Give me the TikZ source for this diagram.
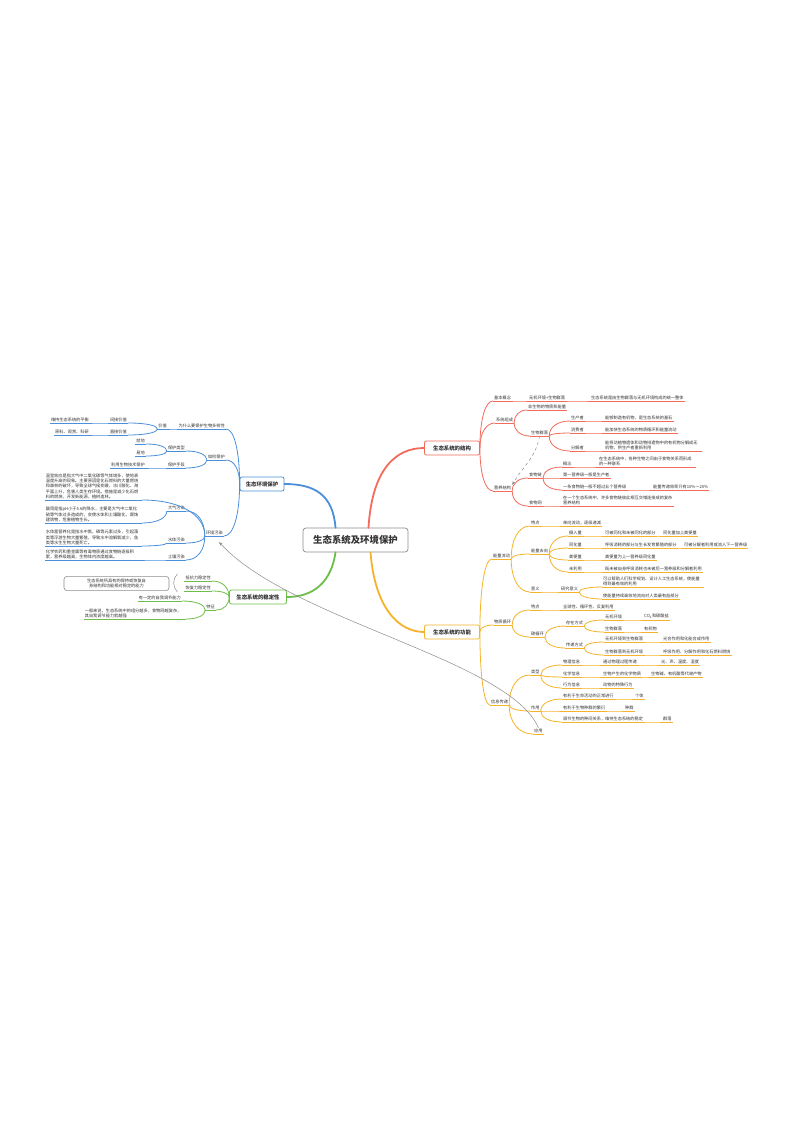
\documentclass[tikz,border=0pt]{standalone}
\usepackage{fontspec}
\newfontfamily\cjk{Noto Sans CJK SC}
\XeTeXlinebreaklocale "zh"
\XeTeXlinebreakskip=0pt
\usetikzlibrary{calc, arrows.meta}
\definecolor{rosso}{HTML}{F26B5B}
\definecolor{arancio}{HTML}{F5B32B}
\definecolor{blu}{HTML}{4A8FDA}
\definecolor{verde}{HTML}{6DBE4B}
\definecolor{testo}{HTML}{333333}
\definecolor{grigio}{HTML}{8C8C8C}

\tikzset{
  voce/.style={font=\cjk\fontsize{4.2}{5.3}\selectfont, text=testo, inner xsep=1pt, inner ysep=0.9pt},
  vd/.style={voce, anchor=south west},
  vs/.style={voce, anchor=south east},
  blocco/.style={text width=#1, align=left},
  scatola/.style={draw=#1, fill=white, rounded corners=2pt, line width=0.8pt, minimum height=14pt,
    font=\cjk\fontsize{5.4}{6}\selectfont\bfseries, text=testo, inner sep=1pt},
  lr/.style={draw=rosso, line width=0.8pt},
  la/.style={draw=arancio, line width=0.8pt},
  lb/.style={draw=blu, line width=0.8pt},
  lv/.style={draw=verde, line width=0.8pt},
  tronco/.style={line width=1.8pt, line cap=round},
  freccia/.style={draw=grigio, line width=0.5pt, -{Stealth[length=4pt, width=3pt]}}
}

% ramo curvo tra due punti
\newcommand\ramo[3]{\draw[#1] (#2) .. controls ($(#2)!0.6!(#2 |- #3)$) and ($(#3)!0.6!(#2 |- #3)$) .. (#3);}

\begin{document}
\begin{tikzpicture}[x=1pt, y=-1pt]

    \fill[white] (0,0) rectangle (800,1131);
    \useasboundingbox (0,0) rectangle (800,1131);

    % Centro
    \node[draw=grigio, fill=white, rounded corners=3pt, line width=0.7pt, minimum width=105pt, minimum height=24pt,
      font=\cjk\fontsize{9.4}{10}\selectfont\bfseries, text=testo] (c) at (355.5,540) {生态系统及环境保护};

    % Rami principali
    \node[scatola=rosso, minimum width=55pt] (r0) at (452,448) {生态系统的结构};
    \node[scatola=arancio, minimum width=55pt] (o0) at (452,632) {生态系统的功能};
    \node[scatola=blu, minimum width=44pt] (b0) at (262,484) {生态环境保护};
    \node[scatola=verde, minimum width=57pt] (g0) at (258,597) {生态系统的稳定性};

    \draw[tronco, blu] ($(c.north)+(-20,0)$) .. controls (333,495) and (315,484) .. (b0.east);
    \draw[tronco, rosso] ($(c.north)+(13,0)$) .. controls (372,470) and (395,448) .. (r0.west);
    \draw[tronco, arancio] ($(c.south)+(15,0)$) .. controls (375,610) and (400,632) .. (o0.west);
    \draw[tronco, verde] ($(c.south)+(-20,0)$) .. controls (330,590) and (305,597) .. (g0.east);

    % Struttura
    \node[vd] (r1) at (493,401) {基本概念};
    \node[vd] (r11) at (528,401) {无机环境+生物群落};
    \node[vd] (r111) at (590,401) {生态系统是由生物群落与无机环境构成的统一整体};
    \node[vd] (r2) at (495,423) {系统组成};
    \node[vd] (r21) at (527,410) {非生物的物质和能量};
    \node[vd] (r22) at (530,436) {生物群落};
    \node[vd] (r221) at (570,421) {生产者};
    \node[vd] (r2211) at (604,421) {能够制造有机物，是生态系统的基石};
    \node[vd] (r222) at (570,433) {消费者};
    \node[vd] (r2221) at (604,433) {能加快生态系统的物质循环和能量流动};
    \node[vd] (r223) at (570,451) {分解者};
    \node[vd, blocco=96pt] (r2231) at (604,451) {能将动植物遗体和动物排遗物中的有机物分解成无机物，供生产者重新利用};
    \node[vd] (r3) at (493,491) {营养结构};
    \node[vd] (r31) at (528,478) {食物链};
    \node[vd] (r311) at (562,467) {概念};
    \node[vd, blocco=96pt] (r3111) at (598,467) {在生态系统中，各种生物之间由于食物关系而形成的一种联系};
    \node[vd] (r312) at (562,478) {第一营养级一般是生产者};
    \node[vd] (r313) at (562,490) {一条食物链一般不超过五个营养级};
    \node[vd] (r3131) at (652,490) {能量传递效率只有10\%～20\%};
    \node[vd] (r32) at (528,506) {食物网};
    \node[vd, blocco=110pt] (r321) at (562,506) {在一个生态系统中，许多食物链彼此相互交错连接成的复杂营养结构};

    \foreach \n in {r1,r11,r111,r2,r21,r22,r221,r2211,r222,r2221,r223,r2231,r3,r31,r311,r3111,r312,r313,r3131,r32,r321}
      {\draw[lr] (\n.south west) -- (\n.south east);}
    \foreach \n in {r1,r2,r3}{\ramo{lr}{r0.east}{\n.south west}}
    \foreach \p/\n in {r1/r11,r11/r111,r2/r21,r2/r22,r22/r221,r22/r222,r22/r223,r221/r2211,r222/r2221,r223/r2231,
      r3/r31,r3/r32,r31/r311,r31/r312,r31/r313,r311/r3111,r313/r3131,r32/r321}
      {\ramo{lr}{\p.south east}{\n.south west}}
    \draw[freccia, dashed] (r22.south) to[out=-100, in=60] (r3.north east);

    % Funzione
    \node[vd] (o1) at (492,559) {能量流动};
    \node[vd] (o11) at (530,526) {特点};
    \node[vd] (o111) at (562,526) {单向流动，逐级递减};
    \node[vd] (o12) at (530,554) {能量去向};
    \node[vd] (o121) at (568,536) {摄入量};
    \node[vd] (o1211) at (604,536) {可被同化和未被同化的部分};
    \node[vd] (o12111) at (662,536) {同化量加上粪便量};
    \node[vd] (o122) at (568,548) {同化量};
    \node[vd] (o1221) at (604,548) {呼吸消耗的部分与生长发育繁殖的部分};
    \node[vd] (o12211) at (683,548) {可被分解者利用或流入下一营养级};
    \node[vd] (o123) at (568,560) {粪便量};
    \node[vd] (o1231) at (604,560) {粪便量为上一营养级同化量};
    \node[vd] (o124) at (568,572) {未利用};
    \node[vd] (o1241) at (604,572) {既未被自身呼吸消耗也未被后一营养级和分解者利用};
    \node[vd] (o13) at (530,592) {意义};
    \node[vd] (o131) at (560,592) {研究意义};
    \node[vd, blocco=100pt] (o1311) at (602,587) {可以帮助人们科学规划、设计人工生态系统，使能量得到最有效的利用};
    \node[vd] (o1312) at (602,599) {使能量持续高效地流向对人类最有益部分};
    \node[vd] (o2) at (493,625) {物质循环};
    \node[vd] (o21) at (530,610) {特点};
    \node[vd] (o211) at (562,610) {全球性、循环性、反复利用};
    \node[vd] (o22) at (530,637) {碳循环};
    \node[vd] (o221) at (565,626) {存在方式};
    \node[vd] (o2211) at (604,620) {无机环境};
    \node[vd] (o22111) at (643,620) {CO\textsubscript{2}和碳酸盐};
    \node[vd] (o2212) at (604,632) {生物群落};
    \node[vd] (o22121) at (643,632) {有机物};
    \node[vd] (o222) at (565,648) {传递方式};
    \node[vd] (o2221) at (604,642) {无机环境到生物群落};
    \node[vd] (o22211) at (662,642) {光合作用和化能合成作用};
    \node[vd] (o2222) at (604,655) {生物群落到无机环境};
    \node[vd] (o22221) at (662,655) {呼吸作用、分解作用和化石燃料燃烧};
    \node[vd] (o3) at (490,705) {信息传递};
    \node[vd] (o31) at (530,675) {类型};
    \node[vd] (o311) at (562,665) {物理信息};
    \node[vd] (o3111) at (602,665) {通过物理过程传递};
    \node[vd] (o31111) at (660,665) {光、声、温度、湿度};
    \node[vd] (o312) at (562,677) {化学信息};
    \node[vd] (o3121) at (602,677) {生物产生的化学物质};
    \node[vd] (o31211) at (650,677) {生物碱、有机酸等代谢产物};
    \node[vd] (o313) at (562,688) {行为信息};
    \node[vd] (o3131) at (602,688) {动物的特殊行为};
    \node[vd] (o32) at (530,711) {作用};
    \node[vd] (o321) at (562,699) {有利于生命活动的正常进行};
    \node[vd] (o3211) at (634,699) {个体};
    \node[vd] (o322) at (562,711) {有利于生物种群的繁衍};
    \node[vd] (o3221) at (624,711) {种群};
    \node[vd] (o323) at (562,722) {调节生物的种间关系，维持生态系统的稳定};
    \node[vd] (o3231) at (662,722) {群落};
    \node[vd] (o4) at (533,734) {应用};

    \foreach \n in {o1,o11,o111,o12,o121,o1211,o12111,o122,o1221,o12211,o123,o1231,o124,o1241,o13,o131,o1311,o1312,
      o2,o21,o211,o22,o221,o2211,o22111,o2212,o22121,o222,o2221,o22211,o2222,o22221,
      o3,o31,o311,o3111,o31111,o312,o3121,o31211,o313,o3131,o32,o321,o3211,o322,o3221,o323,o3231,o4}
      {\draw[la] (\n.south west) -- (\n.south east);}
    \foreach \n in {o1,o2,o3}{\ramo{la}{o0.east}{\n.south west}}
    \foreach \p/\n in {o1/o11,o1/o12,o1/o13,o11/o111,o12/o121,o12/o122,o12/o123,o12/o124,o121/o1211,o1211/o12111,
      o122/o1221,o1221/o12211,o123/o1231,o124/o1241,o13/o131,o131/o1311,o131/o1312,
      o2/o21,o2/o22,o21/o211,o22/o221,o22/o222,o221/o2211,o221/o2212,o2211/o22111,o2212/o22121,
      o222/o2221,o222/o2222,o2221/o22211,o2222/o22221,
      o3/o31,o3/o32,o3/o4,o31/o311,o31/o312,o31/o313,o311/o3111,o3111/o31111,o312/o3121,o3121/o31211,o313/o3131,
      o32/o321,o32/o322,o32/o323,o321/o3211,o322/o3221,o323/o3231}
      {\ramo{la}{\p.south east}{\n.south west}}

    % Protezione
    \node[vs] (b1) at (226,429) {为什么要保护生物多样性};
    \node[vs] (b11) at (168,429) {价值};
    \node[vs] (b111) at (128,423) {间接价值};
    \node[vs] (b1111) at (90,423) {维持生态系统的平衡};
    \node[vs] (b112) at (128,435) {直接价值};
    \node[vs] (b1121) at (90,435) {原料、观赏、科研};
    \node[vs] (b2) at (226,460) {如何保护};
    \node[vs] (b21) at (186,451) {保护类型};
    \node[vs] (b211) at (146,444) {就地};
    \node[vs] (b212) at (146,456) {易地};
    \node[vs] (b22) at (186,468) {保护手段};
    \node[vs] (b221) at (146,468) {利用生物技术保护};
    \node[vs] (b3) at (224,536) {环境污染};
    \node[vs, blocco=95pt] (b31) at (142,500) {温室效应是指大气中二氧化碳等气体增多，使地表温度升高的现象。主要原因是化石燃料的大量燃烧和森林的破坏，导致全球气候变暖、冰川融化、海平面上升，危害人类生存环境。措施是减少化石燃料的燃烧，开发新能源，植树造林。};
    \node[vs] (b32) at (186,511) {大气污染};
    \node[vs, blocco=95pt] (b321) at (142,523) {酸雨是指pH小于5.6的降水，主要是大气中二氧化硫等气体过多造成的，会使水体和土壤酸化，腐蚀建筑物，危害植物生长。};
    \node[vs] (b33) at (186,543) {水体污染};
    \node[vs, blocco=95pt] (b331) at (142,546) {水体富营养化是指水中氮、磷等元素过多，引起藻类等浮游生物大量繁殖，导致水中溶解氧减少，鱼类等水生生物大量死亡。};
    \node[vs] (b34) at (186,560) {土壤污染};
    \node[vs, blocco=95pt] (b341) at (142,560) {化学农药和重金属等有毒物质通过食物链逐级积累，营养级越高，生物体内浓度越高。};

    \foreach \n in {b1,b11,b111,b1111,b112,b1121,b2,b21,b211,b212,b22,b221,b3,b31,b32,b321,b33,b331,b34,b341}
      {\draw[lb] (\n.south west) -- (\n.south east);}
    \foreach \n in {b1,b2,b3}{\ramo{lb}{b0.west}{\n.south east}}
    \foreach \p/\n in {b1/b11,b11/b111,b11/b112,b111/b1111,b112/b1121,b2/b21,b2/b22,b21/b211,b21/b212,b22/b221,
      b3/b31,b3/b32,b3/b33,b3/b34,b32/b321,b33/b331,b34/b341}
      {\ramo{lb}{\p.south west}{\n.south east}}

    % Stabilita
    \node[vs] (g1) at (212,581) {抵抗力稳定性};
    \node[vs] (g2) at (212,591) {恢复力稳定性};
    \node[vs] (g3) at (216,610) {特征};
    \node[vs] (g31) at (182,601) {有一定的自我调节能力};
    \node[vs, blocco=100pt] (g32) at (186,619) {一般来说，生态系统中的组分越多，食物网越复杂，其自我调节能力就越强};
    \node[voce, draw=grigio, rounded corners=3pt, line width=0.6pt, text width=100pt, align=center, inner sep=2.5pt] (gdef) at (116.5,583.5)
      {生态系统所具有的保持或恢复自身结构和功能相对稳定的能力};
    \draw[grigio, line width=0.5pt] ($(g1.north west)+(-7,-1)$) to[bend right=45] ($(g2.south west)+(-7,1)$);

    \foreach \n in {g1,g2,g3,g31,g32}{\draw[lv] (\n.south west) -- (\n.south east);}
    \foreach \n in {g1,g2,g3}{\ramo{lv}{g0.west}{\n.south east}}
    \foreach \p/\n in {g3/g31,g3/g32}{\ramo{lv}{\p.south west}{\n.south east}}

    % Freccia lunga
    \draw[freccia] (o4.north) .. controls (510,660) and (290,620) .. ($(b3.south east)+(-5,6)$);

\end{tikzpicture}
\end{document}
